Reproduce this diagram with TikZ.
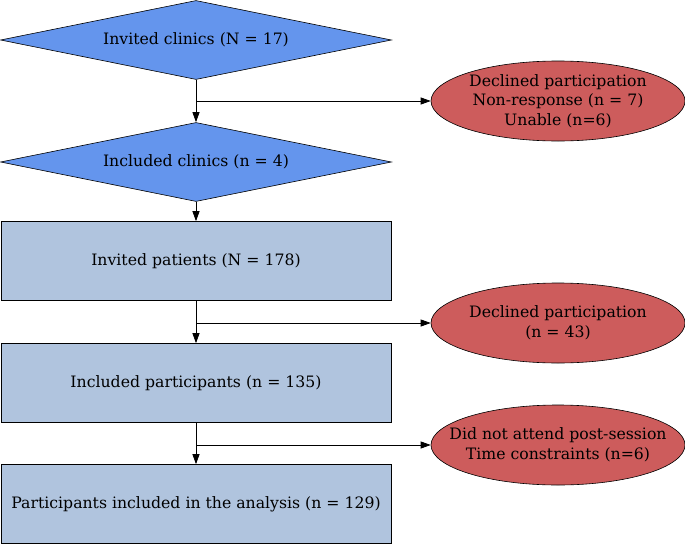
\documentclass[tikz,border=0pt]{standalone}
\usepackage{fontspec}
\setmainfont{DejaVu Serif}
\usetikzlibrary{shapes.geometric,arrows.meta}

\definecolor{clinicblue}{HTML}{6495ED}
\definecolor{patientblue}{HTML}{B0C4DE}
\definecolor{declinedred}{HTML}{CD5C5C}

\tikzset{
  clinic/.style={diamond, draw=black, fill=clinicblue, aspect=4.95, minimum width=391pt, minimum height=79pt, inner sep=0pt},
  patient/.style={rectangle, draw=black, fill=patientblue, minimum width=390pt, minimum height=79pt, inner sep=0pt},
  declined/.style={ellipse, draw=black, fill=declinedred, minimum width=254pt, minimum height=80pt, inner xsep=-20pt, inner ysep=0pt, align=center},
  flow/.style={-{Triangle[length=10pt,width=7pt]}, line width=0.8pt}
}

\begin{document}
\begin{tikzpicture}[x=1pt, y=-1pt, line width=0.6pt, font=\fontsize{15.7}{19.5}\selectfont]
\useasboundingbox (0,0) rectangle (685,546);

% Main column
\node[clinic]  (invclin) at (196,40)  {Invited clinics (N = 17)};
\node[clinic]  (incclin) at (196,162) {Included clinics (n = 4)};
\node[patient] (invpat)  at (196,261) {Invited patients (N = 178)};
\node[patient] (incpart) at (196,383) {Included participants (n = 135)};
\node[patient] (analys)  at (196,504) {Participants included in the analysis (n = 129)};

% Exclusions
\node[declined] (decl1) at (558,101) {Declined participation\\Non-response (n = 7)\\Unable (n=6)};
\node[declined] (decl2) at (558,323) {Declined participation\\(n = 43)};
\node[declined] (noshow) at (558,445) {Did not attend post-session\\Time constraints (n=6)};

% Branch points
\coordinate (br1) at (invclin.south |- decl1.west);
\coordinate (br2) at (invpat.south |- decl2.west);
\coordinate (br3) at (incpart.south |- noshow.west);

% Arrows down the column
\draw[flow] (invclin.south) -- (incclin.north);
\draw[flow] (incclin.south) -- (invpat.north);
\draw[flow] (invpat.south) -- (incpart.north);
\draw[flow] (incpart.south) -- (analys.north);

% Arrows to the exclusions
\draw[flow] (br1) -- (decl1.west);
\draw[flow] (br2) -- (decl2.west);
\draw[flow] (br3) -- (noshow.west);
\end{tikzpicture}
\end{document}
